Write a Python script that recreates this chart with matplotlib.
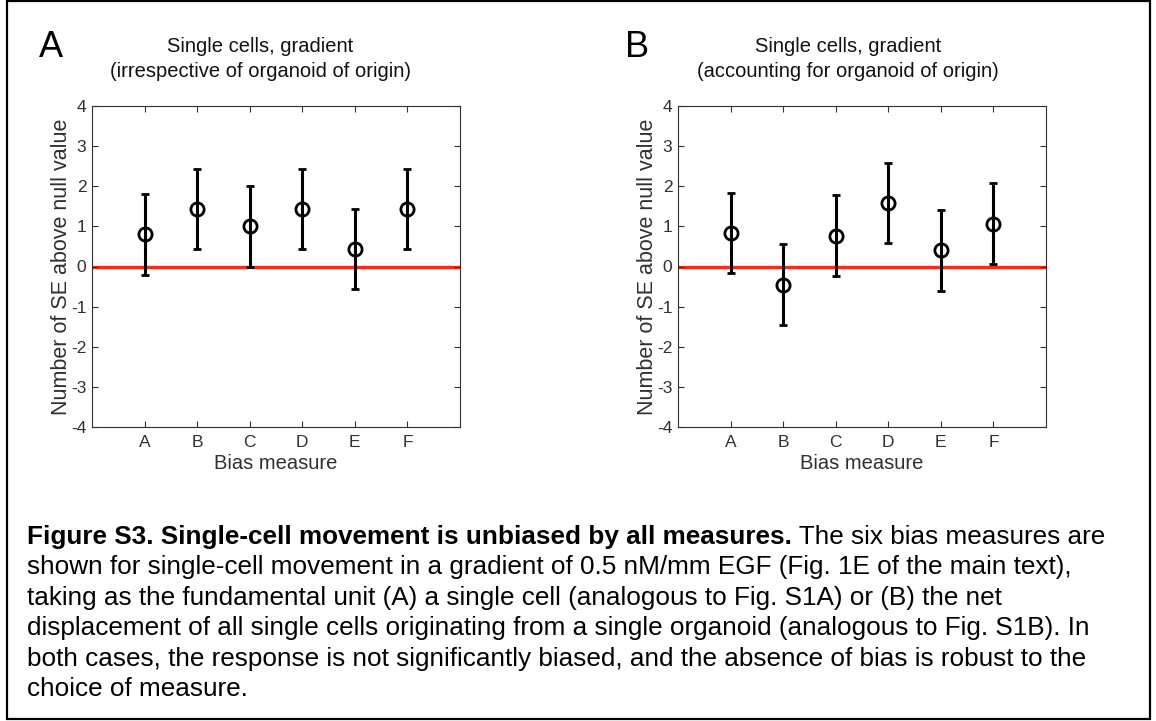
import numpy as np
import matplotlib
matplotlib.use('Agg')
import matplotlib.pyplot as plt
from matplotlib.patches import Rectangle

plt.rcParams['font.family'] = ['Liberation Sans', 'DejaVu Sans']
plt.rcParams['axes.unicode_minus'] = False

measures = ['A', 'B', 'C', 'D', 'E', 'F']
# panel A: irrespective of organoid of origin
vals_a = [0.80, 1.43, 1.00, 1.43, 0.43, 1.43]
err_a = [1.0, 1.0, 1.0, 1.0, 1.0, 1.0]
# panel B: accounting for organoid of origin
vals_b = [0.83, -0.45, 0.77, 1.58, 0.40, 1.07]
err_b = [1.0, 1.0, 1.0, 1.0, 1.0, 1.0]

panels = [
    ('A', 'Single cells, gradient\n(irrespective of organoid of origin)', vals_a, err_a),
    ('B', 'Single cells, gradient\n(accounting for organoid of origin)', vals_b, err_b),
]

caption_bold = "Figure S3. Single-cell movement is unbiased by all measures."
caption_lines = [
    " The six bias measures are",
    "shown for single-cell movement in a gradient of 0.5 nM/mm EGF (Fig. 1E of the main text),",
    "taking as the fundamental unit (A) a single cell (analogous to Fig. S1A) or (B) the net",
    "displacement of all single cells originating from a single organoid (analogous to Fig. S1B). In",
    "both cases, the response is not significantly biased, and the absence of bias is robust to the",
    "choice of measure.",
]

W, H = 1156, 721
fig = plt.figure(figsize=(W / 100, H / 100), dpi=100)

# overlay in pixel coordinates for border, labels and caption
ov = fig.add_axes([0, 0, 1, 1], zorder=-1)
ov.set_xlim(0, W)
ov.set_ylim(H, 0)
ov.axis('off')
ov.add_patch(Rectangle((7, 1), 1143, 718, fill=False, ec='black', lw=1.6))

axis_grey = '#303030'
ax_left = [92, 678]
letter_x = [39, 625]
title_x = [260, 848]

for i, (letter, title, vals, errs) in enumerate(panels):
    l = ax_left[i]
    ax = fig.add_axes([l / W, 1 - 427 / H, 368 / W, 321 / H])
    x = np.arange(1, len(measures) + 1)
    ax.plot([0, 7], [0, 0], color='#ff2a16', lw=2.4, zorder=1)
    ax.errorbar(x, vals, yerr=errs, fmt='o', color='black', mfc='none',
                mec='black', ms=9.5, mew=2.0, elinewidth=2.2, capsize=3,
                capthick=2.2, zorder=3)
    ax.set_xlim(0, 7)
    ax.set_ylim(-4, 4)
    ax.set_xticks(x)
    ax.set_xticklabels(measures)
    ax.set_yticks(range(-4, 5))
    ax.tick_params(direction='in', top=True, right=True, length=4,
                   width=0.8, color=axis_grey, labelcolor=axis_grey,
                   labelsize=12.5, pad=4)
    ax.tick_params(axis='x', pad=5.5)
    for s in ax.spines.values():
        s.set_color(axis_grey)
        s.set_linewidth(0.8)
    ax.set_xlabel('Bias measure', fontsize=14.5, color=axis_grey, labelpad=3)
    ax.set_ylabel('Number of SE above null value', fontsize=15.5,
                  color=axis_grey, labelpad=-0.5)

    ov.text(letter_x[i], 57, letter, fontsize=26, ha='left', va='baseline')
    ov.text(title_x[i], 59, title, fontsize=14.5, ha='center',
            va='center', linespacing=1.42, color='#111111')

# caption
cap_size = 18.8
bold = ov.text(27, 544, caption_bold, fontsize=cap_size, fontweight='bold',
               ha='left', va='baseline')
ov.annotate(caption_lines[0], xy=(1, 0), xycoords=bold, fontsize=cap_size,
            ha='left', va='bottom')
for j, line in enumerate(caption_lines[1:]):
    ov.text(27, 544 + 30.4 * (j + 1), line, fontsize=cap_size,
            ha='left', va='baseline')

fig.savefig('out.png', dpi=100)
